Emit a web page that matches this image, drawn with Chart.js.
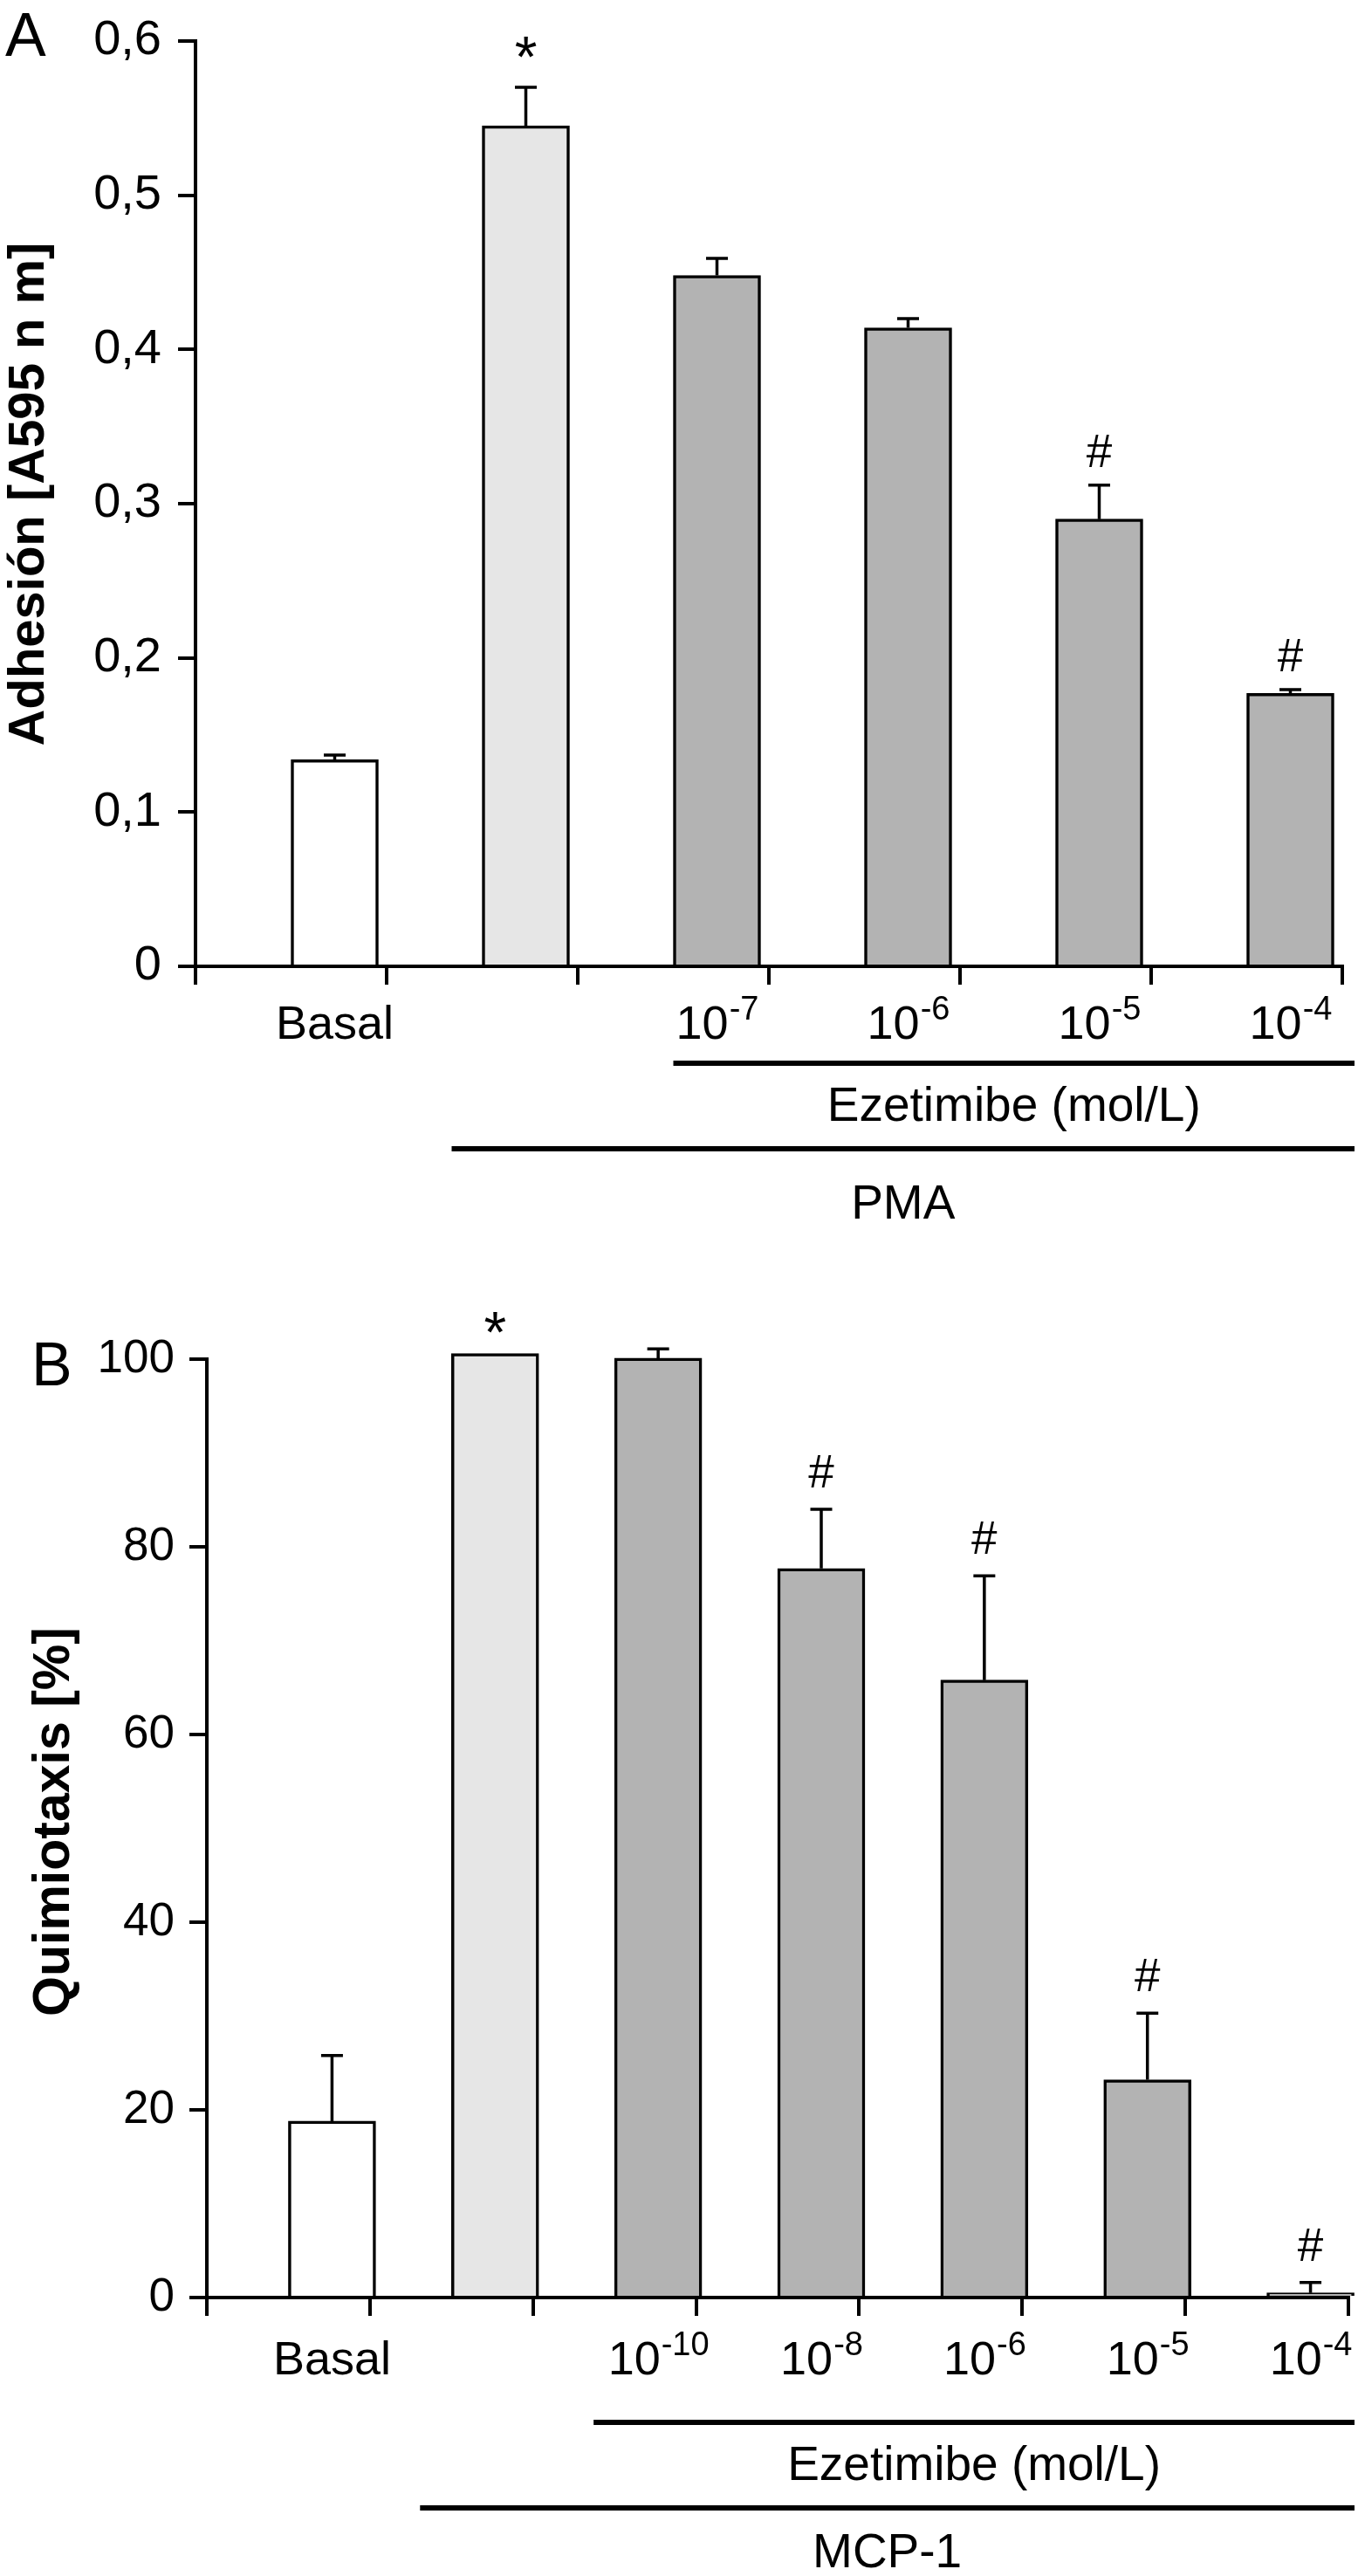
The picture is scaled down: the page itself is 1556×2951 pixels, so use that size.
<!DOCTYPE html>
<html>
<head>
<meta charset="utf-8">
<script src="https://cdn.jsdelivr.net/npm/chart.js@4.4.0/dist/chart.umd.min.js"></script>
<style>
  html, body { margin: 0; padding: 0; background: #fff; }
  canvas { display: block; }
</style>
</head>
<body>
<canvas id="chartA" width="1556" height="1450"></canvas>
<canvas id="chartB" width="1556" height="1501"></canvas>
<script>
// Panel A data (adhesion)

const categoriesA = ["Basal", "PMA", "10^-7", "10^-6", "10^-5", "10^-4"];
const tickLabelsA = ["Basal", "", "10^-7", "10^-6", "10^-5", "10^-4"];
const valuesA = [0.134, 0.545, 0.448, 0.414, 0.290, 0.177];
const errorsA = [0.003, 0.025, 0.011, 0.006, 0.022, 0.0025];
const marksA = ["", "*", "", "", "#", "#"];
const yTicksA = [0, 0.1, 0.2, 0.3, 0.4, 0.5, 0.6];
const yTickLabelsA = ["0", "0,1", "0,2", "0,3", "0,4", "0,5", "0,6"];

// Panel B data (chemotaxis)

const categoriesB = ["Basal", "MCP-1", "10^-10", "10^-8", "10^-6", "10^-5", "10^-4"];
const tickLabelsB = ["Basal", "", "10^-10", "10^-8", "10^-6", "10^-5", "10^-4"];
const valuesB = [18.8, 100.6, 100.1, 77.7, 65.8, 23.2, 0.5];
const errorsB = [7.0, 0, 1.0, 6.3, 11.1, 7.1, 1.1];
const marksB = ["", "*", "", "#", "#", "#", "#"];
const yTicksB = [0, 20, 40, 60, 80, 100];
const yTickLabelsB = ["0", "20", "40", "60", "80", "100"];

const FONT = "'Liberation Sans', Arial, Helvetica, sans-serif";

Chart.defaults.font.family = FONT;
Chart.defaults.color = "#000";

function barColor(i) {
    if (i === 0) return "#ffffff";
    if (i === 1) return "#e6e6e6";
    return "#b3b3b3";
}

// Error bars, significance marks, axis labels, brackets, titles

const decorPlugin = {
    id: "decor",
    afterDatasetsDraw(chart, args, opts) {
        const ctx = chart.ctx,
            meta = chart.getDatasetMeta(1),
            yScale = chart.scales.y,
            values = chart.data.datasets[1].data;

        ctx.save();
        ctx.strokeStyle = "#000";
        ctx.fillStyle = "#000";
        ctx.lineWidth = 3.5;
        meta.data.forEach((bar, i) => {
            let top = bar.y;
            if (opts.errors[i] > 0) {
                top = yScale.getPixelForValue(values[i] + opts.errors[i]);
                ctx.beginPath();
                ctx.moveTo(bar.x, bar.y);
                ctx.lineTo(bar.x, top);
                ctx.moveTo(bar.x - 12.5, top);
                ctx.lineTo(bar.x + 12.5, top);
                ctx.stroke();
            }
            const mark = opts.marks[i];
            if (mark) {
                const star = mark === "*";
                ctx.font = (star ? "66px " : "53px ") + FONT;
                ctx.textAlign = "center";
                ctx.textBaseline = "alphabetic";
                ctx.fillText(mark, bar.x, top - (star ? opts.starGap : opts.markGap));
            }
        });
        ctx.restore();
    },
    afterDraw(chart, args, opts) {
        const ctx = chart.ctx,
            meta = chart.getDatasetMeta(1),
            xScale = chart.scales.x,
            right = chart.width - 4;

        ctx.save();
        ctx.fillStyle = "#000";
        ctx.strokeStyle = "#000";
        ctx.textBaseline = "alphabetic";

        // category labels with superscript exponents
        meta.data.forEach((bar, i) => {
            const label = opts.tickLabels[i];
            if (!label) return;
            const parts = label.split("^");
            ctx.font = "54px " + FONT;
            const baseW = ctx.measureText(parts[0]).width;
            let expW = 0;
            if (parts[1]) {
                ctx.font = "38px " + FONT;
                expW = ctx.measureText(parts[1]).width;
            }
            const x0 = bar.x - (baseW + expW) / 2;
            ctx.textAlign = "left";
            ctx.font = "54px " + FONT;
            ctx.fillText(parts[0], x0, opts.labelY);
            if (parts[1]) {
                ctx.font = "38px " + FONT;
                ctx.fillText(parts[1], x0 + baseW + 1, opts.labelY - 22);
            }
        });

        // group brackets
        ctx.lineWidth = 6;
        ctx.font = "55px " + FONT;
        ctx.textAlign = "center";
        opts.brackets.forEach(b => {
            const x0 = xScale.getPixelForValue(b.from) + b.shift;
            ctx.beginPath();
            ctx.moveTo(x0, b.y);
            ctx.lineTo(right, b.y);
            ctx.stroke();
            ctx.fillText(b.text, (x0 + right) / 2, b.textY);
        });

        // panel letter
        ctx.textAlign = "left";
        ctx.font = "70px " + FONT;
        ctx.fillText(opts.letter, opts.letterX, opts.letterY);

        // y axis title
        ctx.translate(opts.titleX, opts.titleY);
        ctx.rotate(-Math.PI / 2);
        ctx.textAlign = "center";
        ctx.font = "bold " + opts.titleSize + "px " + FONT;
        ctx.fillText(opts.title, 0, 0);
        ctx.restore();
    }
};

function makePanel(canvasId, s) {
    return new Chart(document.getElementById(canvasId), {
        type: "bar",
        data: {
            labels: s.categories,
            datasets: [{
                // empty slot so each bar sits in the right half of its category
                data: s.values.map(() => null),
            }, {
                data: s.values,
                backgroundColor: s.values.map((v, i) => barColor(i)),
                borderColor: "#000",
                borderWidth: 3.5,
                borderSkipped: "start",
                clip: false,
            }],
        },
        options: {
            responsive: false,
            animation: false,
            devicePixelRatio: 1,
            datasets: {
                bar: { barThickness: 100 },
            },
            layout: {
                padding: { top: s.top, right: s.padRight, bottom: 0, left: 0 },
            },
            plugins: {
                legend: { display: false },
                tooltip: { enabled: false },
                decor: {
                    errors: s.errors,
                    marks: s.marks,
                    markGap: s.markGap,
                    starGap: s.starGap,
                    tickLabels: s.tickLabels,
                    labelY: s.labelY,
                    brackets: s.brackets,
                    letter: s.letter,
                    letterX: s.letterX,
                    letterY: s.letterY,
                    title: s.title,
                    titleSize: s.titleSize,
                    titleX: s.titleX,
                    titleY: s.titleY,
                },
            },
            scales: {
                x: {
                    type: "category",
                    offset: true,
                    grid: {
                        offset: true,
                        drawOnChartArea: false,
                        color: "#000",
                        lineWidth: 4,
                        tickLength: 21,
                    },
                    border: { display: true, color: "#000", width: 4 },
                    ticks: { display: false },
                    afterFit: scale => { scale.height = s.xHeight; },
                },
                y: {
                    min: 0,
                    max: s.yTicks[s.yTicks.length - 1],
                    grid: {
                        drawOnChartArea: false,
                        color: "#000",
                        lineWidth: 4,
                        tickLength: 20,
                    },
                    border: { display: true, color: "#000", width: 4 },
                    afterBuildTicks: scale => {
                        scale.ticks = s.yTicks.map(v => ({ value: v }));
                    },
                    ticks: {
                        padding: s.tickPad,
                        font: { size: s.tickSize, lineHeight: 1 },
                        color: "#000",
                        callback: (value, index) => s.yTickLabels[index],
                    },
                    afterFit: scale => { scale.width = s.yWidth; },
                },
            },
        },
        plugins: [decorPlugin],
    });
}

let chartA = makePanel("chartA", {
    categories: categoriesA,
    tickLabels: tickLabelsA,
    values: valuesA,
    errors: errorsA,
    marks: marksA,
    yTicks: yTicksA,
    yTickLabels: yTickLabelsA,
    top: 32, padRight: 18, xHeight: 343, yWidth: 224, tickPad: 19, tickSize: 56,
    markGap: 21, starGap: 12,
    labelY: 1190,
    brackets: [
        { from: 2, shift: 0, y: 1218, text: "Ezetimibe (mol/L)", textY: 1284 },
        { from: 1, shift: -35, y: 1316, text: "PMA", textY: 1396 },
    ],
    letter: "A", letterX: 6, letterY: 64,
    title: "Adhesión [A595 n m]", titleSize: 58, titleX: 50, titleY: 566,
});

let chartB = makePanel("chartB", {
    categories: categoriesB,
    tickLabels: tickLabelsB,
    values: valuesB,
    errors: errorsB,
    marks: marksB,
    yTicks: yTicksB,
    yTickLabels: yTickLabelsB,
    top: 107, padRight: 11, xHeight: 319, yWidth: 237, tickPad: 17, tickSize: 53,
    markGap: 25, starGap: 2,
    labelY: 1270,
    brackets: [
        { from: 2, shift: -24, y: 1325, text: "Ezetimibe (mol/L)", textY: 1391 },
        { from: 1, shift: -36, y: 1423, text: "MCP-1", textY: 1491 },
    ],
    letter: "B", letterX: 36, letterY: 137,
    title: "Quimiotaxis [%]", titleSize: 59, titleX: 79, titleY: 637,
});
</script>
</body>
</html>
